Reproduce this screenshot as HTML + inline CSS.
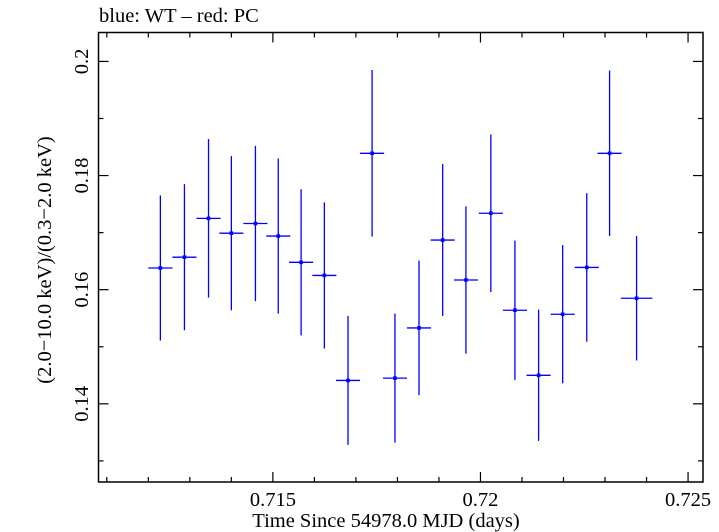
<!DOCTYPE html>
<html><head><meta charset="utf-8"><style>
html,body{margin:0;padding:0;background:#fff;}
svg{display:block;font-family:"Liberation Serif",serif;}
</style></head><body>
<svg id="chart" width="719" height="532" viewBox="0 0 719 532" xmlns="http://www.w3.org/2000/svg">
<text x="99" y="22" font-size="20.5">blue: WT – red: PC</text>
<rect x="98.5" y="32.5" width="604.5" height="449.5" fill="none" stroke="#000" stroke-width="1.5"/>
<g id="axes"></g>
<g id="marks"></g>
<text x="386" y="527" font-size="20.5" text-anchor="middle">Time Since 54978.0 MJD (days)</text>
<text transform="translate(51,260) rotate(-90)" font-size="20.5" text-anchor="middle">(2.0−10.0 keV)/(0.3−2.0 keV)</text>
</svg>
<script>
const times=[0.71229,0.71287,0.71345,0.71400,0.71458,0.71513,0.71568,0.71624,0.71681,0.71739,0.71794,0.71852,0.71909,0.71965,0.72025,0.72083,0.72140,0.72198,0.72256,0.72311,0.72376];
const ratios=[0.1638,0.1657,0.1725,0.1699,0.1716,0.1694,0.1648,0.1625,0.1441,0.1839,0.1445,0.1533,0.1687,0.1617,0.1734,0.1564,0.1450,0.1557,0.1639,0.1839,0.1585];
const ratioErr=[0.0127,0.0128,0.0139,0.0135,0.0136,0.0136,0.0128,0.0128,0.0113,0.0146,0.0113,0.0118,0.0133,0.0129,0.0138,0.0122,0.0115,0.0121,0.0130,0.0145,0.0109];
const timeErr=[0.00029,0.00029,0.00029,0.00029,0.00029,0.00029,0.00029,0.00029,0.00029,0.00029,0.00029,0.00029,0.00029,0.00029,0.00029,0.00029,0.00029,0.00029,0.00029,0.00029,0.00038];
const xTickLabels=["0.715","0.72","0.725"];
const xTickValues=[0.715,0.72,0.725];
const yTickLabels=["0.14","0.16","0.18","0.2"];
const yTickValues=[0.14,0.16,0.18,0.2];

const L=98.5,R=703,T=32.5,B=482;
const xMin=0.71080,xMax=0.72536,yMin=0.1263,yMax=0.20507;
const xs=v=>L+(v-xMin)/(xMax-xMin)*(R-L);
const ys=v=>B-(v-yMin)/(yMax-yMin)*(B-T);
const NS="http://www.w3.org/2000/svg";
function mk(tag,attrs,parent){const e=document.createElementNS(NS,tag);for(const k in attrs)e.setAttribute(k,attrs[k]);parent.appendChild(e);return e;}
const axes=document.getElementById('axes');
for(let i=0;i<=14;i++){
  const v=0.711+i*0.001; if(v>xMax)break;
  const major=Math.abs((v*1000)%5)<1e-6||Math.abs((v*1000)%5-5)<1e-6;
  const len=major?10:5;const x=xs(v);
  const t1=mk('line',{x1:x,x2:x,y1:B,y2:B-len,stroke:'#000','stroke-width':1.2},axes);
  
  
  const t2=mk('line',{x1:x,x2:x,y1:T,y2:T+len,stroke:'#000','stroke-width':1.2},axes);
  
  
}
xTickValues.forEach((v,i)=>{
  const t=mk('text',{x:xs(v),y:506,'font-size':20.5,'text-anchor':'middle'},axes);
  t.textContent=xTickLabels[i];
  
  
});
for(let i=0;i<=8;i++){
  const v=0.13+i*0.01; if(v>yMax)break;
  const major=i%2===1;const len=major?10:5;const y=ys(v);
  const t1=mk('line',{x1:L,x2:L+len,y1:y,y2:y,stroke:'#000','stroke-width':1.2},axes);
  
  
  const t2=mk('line',{x1:R,x2:R-len,y1:y,y2:y,stroke:'#000','stroke-width':1.2},axes);
  
  
}
yTickValues.forEach((v,i)=>{
  const t=mk('text',{transform:`translate(88,${ys(v)}) rotate(-90)`,'font-size':20.5,'text-anchor':'middle'},axes);
  t.textContent=yTickLabels[i];
  
  
});
const marks=document.getElementById('marks');
times.forEach((tv,i)=>{
  const g=mk('g',{},marks);
  
  
  const x=xs(tv),y=ys(ratios[i]);
  mk('line',{x1:x,x2:x,y1:ys(ratios[i]+ratioErr[i]),y2:ys(ratios[i]-ratioErr[i]),stroke:'#0000ff','stroke-width':1.3},g);
  mk('line',{x1:xs(tv-timeErr[i]),x2:xs(tv+timeErr[i]),y1:y,y2:y,stroke:'#0000ff','stroke-width':1.3},g);
  mk('rect',{x:x-1.8,y:y-1.8,width:3.6,height:3.6,fill:'#0000ff'},g);
});
</script>
</body></html>
